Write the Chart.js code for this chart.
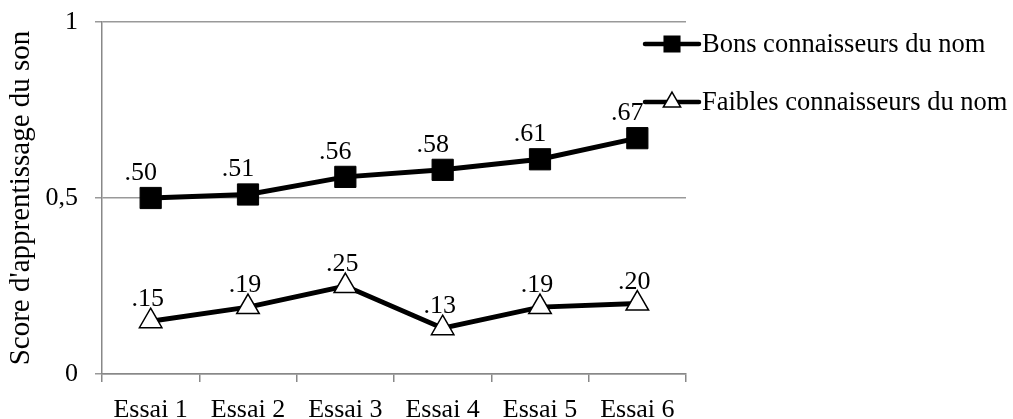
<!DOCTYPE html>
<html>
<head>
<meta charset="utf-8">
<script src="https://cdn.jsdelivr.net/npm/chart.js@4"></script>
<style>
  html, body { margin: 0; padding: 0; background: #fff; }
  #wrap { width: 1013px; height: 419px; }
</style>
</head>
<body>
<div id="wrap"><canvas id="chart"></canvas></div>
<script>
const categories = ["Essai 1", "Essai 2", "Essai 3", "Essai 4", "Essai 5", "Essai 6"];
const bons = [0.50, 0.51, 0.56, 0.58, 0.61, 0.67];
const faibles = [0.15, 0.19, 0.25, 0.13, 0.19, 0.20];
const seriesNames = ["Bons connaisseurs du nom", "Faibles connaisseurs du nom"];
const yTitle = "Score d'apprentissage du son";

const serif = "'Liberation Serif', 'Times New Roman', serif";
Chart.defaults.font.family = serif;
Chart.defaults.color = "#000";

// etiquettes des valeurs au-dessus des points (.50, .51 ...)
const valueLabels = {
    id: "valueLabels",
    afterDatasetsDraw(chart) {
        const ctx = chart.ctx;
        ctx.save();
        ctx.font = "26px " + serif;
        ctx.fillStyle = "#000";
        ctx.textAlign = "center";
        ctx.textBaseline = "alphabetic";
        chart.data.datasets.forEach((ds, i) => {
            const carre = ds.pointStyle === "rect";
            const up = carre ? 18 : 15;
            const dx = carre ? -10 : -3;
            chart.getDatasetMeta(i).data.forEach((pt, j) => {
                const txt = ds.data[j].toFixed(2).replace(/^0/, "");
                ctx.fillText(txt, pt.x + dx, pt.y - up);
            });
        });
        ctx.restore();
    }
};

// légende à droite, ligne + marqueur comme dans Excel
const lineLegend = {
    id: "lineLegend",
    afterDraw(chart) {
        const ctx = chart.ctx;
        const x0 = chart.chartArea.right - 41;
        const rows = [44, 102];
        ctx.save();
        chart.data.datasets.forEach((ds, i) => {
            const y = rows[i];
            ctx.strokeStyle = "#000";
            ctx.lineWidth = 4.5;
            ctx.lineCap = "round";
            ctx.beginPath();
            ctx.moveTo(x0, y);
            ctx.lineTo(x0 + 54, y);
            ctx.stroke();
            ctx.fillStyle = ds.pointBackgroundColor;
            ctx.strokeStyle = "#000";
            ctx.lineWidth = 1.5;
            Chart.helpers.drawPoint(ctx, {
                pointStyle: ds.pointStyle,
                radius: ds.pointStyle === "rect" ? 11 : 10,
                borderWidth: 1.5
            }, x0 + 27, y);
            ctx.fillStyle = "#000";
            ctx.font = "26.5px " + serif;
            ctx.textAlign = "left";
            ctx.textBaseline = "middle";
            ctx.fillText(seriesNames[i], x0 + 57, y + 1);
        });
        ctx.restore();
    }
};

new Chart(document.getElementById("chart"), {
    type: "line",
    data: {
        labels: categories,
        datasets: [
            {
                label: seriesNames[0],
                data: bons,
                borderColor: "#000",
                borderWidth: 5,
                pointStyle: "rect",
                pointRadius: 15,
                pointBackgroundColor: "#000",
                pointBorderColor: "#000",
                pointBorderWidth: 1
            },
            {
                label: seriesNames[1],
                data: faibles,
                borderColor: "#000",
                borderWidth: 5,
                pointStyle: "triangle",
                pointRadius: 13,
                pointBackgroundColor: "#fff",
                pointBorderColor: "#000",
                pointBorderWidth: 1.5
            }
        ]
    },
    options: {
        responsive: true,
        maintainAspectRatio: false,
        animation: false,
        layout: { padding: { top: 22, right: 327, left: 0, bottom: 0 } },
        plugins: {
            legend: { display: false },
            tooltip: { enabled: false }
        },
        scales: {
            x: {
                offset: true,
                afterFit: s => { s.height = 45; },
                grid: {
                    offset: true,
                    drawOnChartArea: false,
                    drawTicks: true,
                    tickLength: 8,
                    color: "#888",
                    lineWidth: 1.5
                },
                border: { color: "#888", width: 1.5 },
                ticks: { font: { size: 26 }, padding: 13, maxRotation: 0 }
            },
            y: {
                min: 0,
                max: 1,
                afterFit: s => { s.width = 102; s.paddingTop = 0; s.paddingBottom = 0; },
                grid: {
                    color: "#999",
                    lineWidth: 1.5,
                    tickLength: 7
                },
                border: { color: "#888", width: 1.5 },
                ticks: {
                    stepSize: 0.5,
                    font: { size: 26 },
                    padding: 17,
                    callback: v => String(v).replace(".", ",")
                },
                title: {
                    display: true,
                    text: yTitle,
                    font: { size: 29 },
                    padding: { top: 4, bottom: 0 }
                }
            }
        }
    },
    plugins: [valueLabels, lineLegend]
});
</script>
</body>
</html>
